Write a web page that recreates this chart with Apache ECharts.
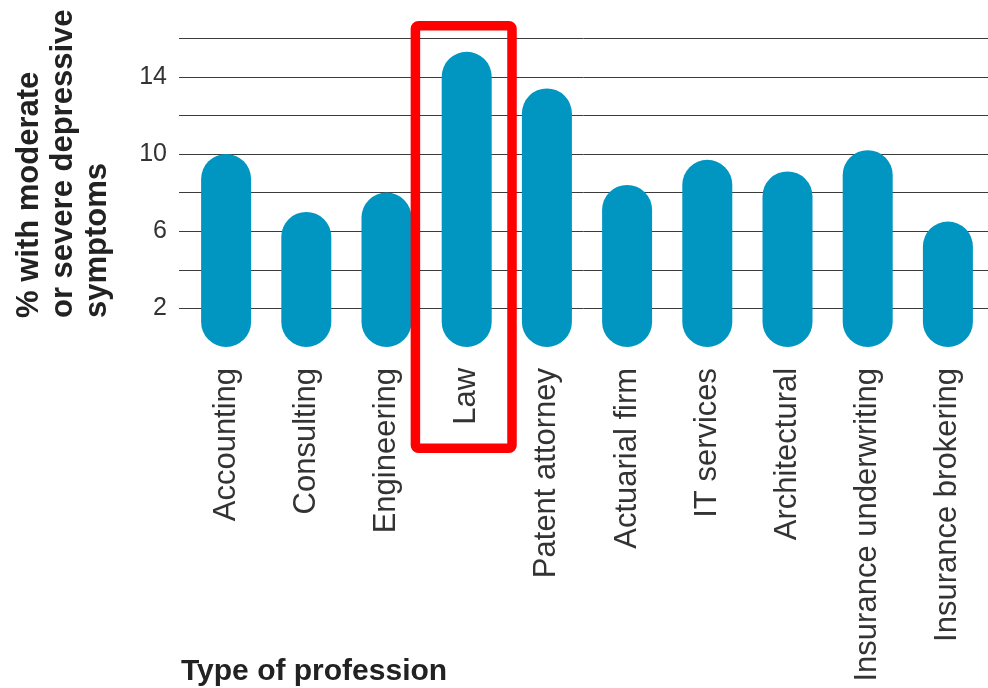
<!DOCTYPE html>
<html>
<head>
<meta charset="utf-8">
<script src="https://cdn.jsdelivr.net/npm/echarts@6/dist/echarts.min.js"></script>
<style>
html,body{margin:0;padding:0;background:#fff;}
#chart{width:988px;height:688px;}
</style>
</head>
<body>
<div id="chart"></div>
<script>
var categories = ['Accounting','Consulting','Engineering','Law','Patent attorney','Actuarial firm','IT services','Architectural','Insurance underwriting','Insurance brokering'];
var values = [10.0, 7.0, 8.0, 15.3, 13.4, 8.4, 9.7, 9.1, 10.2, 6.5];
var yTickLabels = [2, 6, 10, 14];
var yMin = 0, yMax = 16, yStep = 2;
var highlighted = 'Law';
var yTitle = '% with moderate\nor severe depressive\nsymptoms';
var xTitle = 'Type of profession';

var FONT = '"Liberation Sans", Arial, Helvetica, sans-serif';
var gridColors = [];
for (var v = yMin; v <= yMax; v += yStep) gridColors.push(v === yMin ? 'rgba(0,0,0,0)' : '#3c3c3c');

var chart = echarts.init(document.getElementById('chart'), null, {renderer: 'canvas'});
var top_ = 38.3, bottom_ = 341.1;
chart.setOption({
  animation: false,
  backgroundColor: '#ffffff',
  grid: [
    {left: 179, right: 0, top: top_, bottom: bottom_},
    {left: 186, width: 804.4, top: top_, bottom: bottom_}
  ],
  xAxis: [
    {gridIndex: 0, type: 'value', min: 0, max: 1, show: false},
    {gridIndex: 1, type: 'category', data: categories,
     axisLine: {show: false}, axisTick: {show: false},
     axisLabel: {interval: 0, rotate: 90, margin: 21, fontSize: 31, color: '#333333', fontFamily: FONT}}
  ],
  yAxis: [
    {gridIndex: 0, type: 'value', min: yMin, max: yMax, interval: yStep,
     axisLine: {show: false}, axisTick: {show: false},
     splitLine: {show: true, lineStyle: {color: gridColors, width: 1}},
     axisLabel: {margin: 12, fontSize: 25, color: '#333333', fontFamily: FONT,
       formatter: function (val) { return yTickLabels.indexOf(val) >= 0 ? String(val) : ''; }}},
    {gridIndex: 1, type: 'value', min: yMin, max: yMax, interval: yStep, show: false, splitLine: {show: false}}
  ],
  series: [{
    type: 'bar', xAxisIndex: 1, yAxisIndex: 1,
    data: values, barWidth: 50, z: 3,
    itemStyle: {color: '#0096c1', borderRadius: 25}
  }]
});

var p = chart.convertToPixel({xAxisIndex: 1, yAxisIndex: 1}, [highlighted, yMax]);
chart.setOption({
  graphic: [
    {type: 'text', x: 12, y: 318, rotation: Math.PI / 2, z: 10,
     style: {text: yTitle, font: 'bold 31px ' + FONT, lineHeight: 34, fill: '#222222', align: 'left', verticalAlign: 'top'}},
    {type: 'text', x: 181, y: 672, z: 10,
     style: {text: xTitle, font: 'bold 30px ' + FONT, fill: '#222222', align: 'left', verticalAlign: 'middle'}},
    {type: 'rect', z: 20,
     shape: {x: p[0] - 51.3, y: p[1] - 12.5, width: 96.6, height: 422.5, r: 3},
     style: {fill: 'none', stroke: '#ff0000', lineWidth: 9.5}}
  ]
});
</script>
</body>
</html>
